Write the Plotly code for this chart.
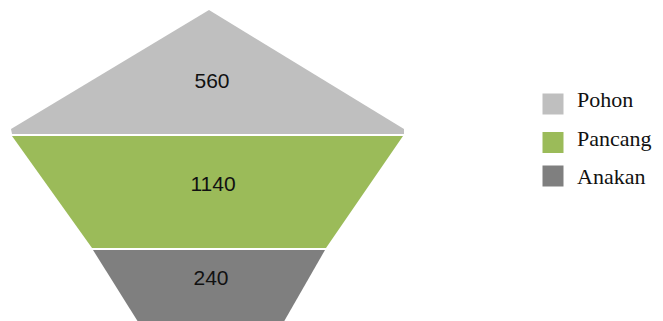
import plotly.graph_objects as go

# ---- data ----
categories = ["Pohon", "Pancang", "Anakan"]
values = [560, 1140, 240]
colors = ["#BFBFBF", "#9BBB59", "#7F7F7F"]

# ---- layout geometry (page-pixel axis units) ----
W, H = 663, 321
OFF = 8  # default page body margin; axes are offset so units equal page pixels
shapes_xy = {
    "Pohon":   ([209, 404, 404, 12, 11, 209], [10, 129, 134, 134, 129, 10]),
    "Pancang": ([12, 403, 326, 92, 12], [136, 136, 248, 248, 136]),
    "Anakan":  ([93, 325, 282, 140, 93], [250, 250, 325, 325, 250]),
}
label_pos = {"Pohon": (212, 82.5), "Pancang": (213, 186), "Anakan": (211, 280)}
legend_x_box, legend_x_txt = 553, 577
legend_y_box = [104, 142.5, 176]
legend_y_txt = [101, 140, 178]

fig = go.Figure()
for cat, val, col in zip(categories, values, colors):
    xs, ys = shapes_xy[cat]
    fig.add_trace(go.Scatter(x=xs, y=ys, fill="toself", fillcolor=col, mode="lines",
                             line=dict(width=0, color=col), hoverinfo="skip", showlegend=False))
    lx, ly = label_pos[cat]
    fig.add_trace(go.Scatter(x=[lx], y=[ly], mode="text", text=[str(val)],
                             textfont=dict(family="Liberation Sans", size=21, color="#111111"),
                             hoverinfo="skip", showlegend=False))

# legend (drawn as markers + text)
fig.add_trace(go.Scatter(x=[legend_x_box] * 3, y=legend_y_box, mode="markers",
                         marker=dict(symbol="square", size=21, color=colors, line=dict(width=0)),
                         hoverinfo="skip", showlegend=False))
fig.add_trace(go.Scatter(x=[legend_x_txt] * 3, y=legend_y_txt, mode="text",
                         text=categories, textposition="middle right",
                         textfont=dict(family="Liberation Serif", size=22, color="#111111"),
                         hoverinfo="skip", showlegend=False))

fig.update_layout(
    width=W - OFF, height=H - OFF, margin=dict(l=0, r=0, t=0, b=0),
    paper_bgcolor="white", plot_bgcolor="white",
    xaxis=dict(range=[OFF, W], visible=False, fixedrange=True),
    yaxis=dict(range=[H, OFF], visible=False, fixedrange=True),
)
fig.write_html("out.html")
